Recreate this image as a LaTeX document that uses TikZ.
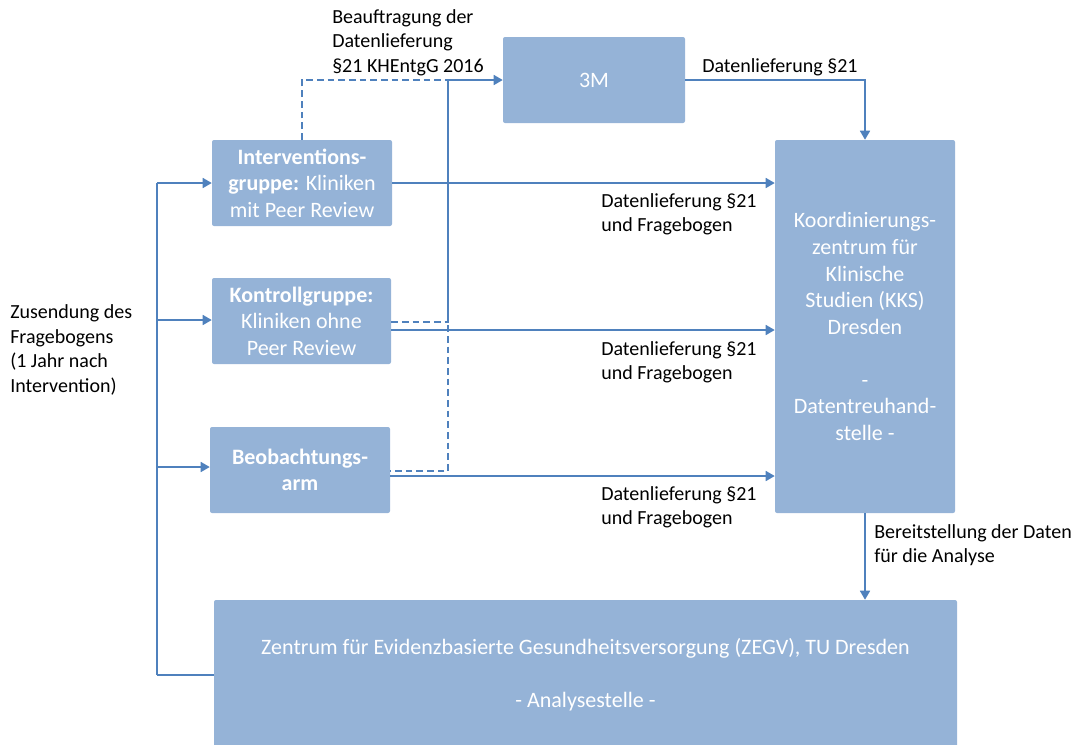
\documentclass[tikz,border=0pt]{standalone}
\usepackage{fontspec}
\setmainfont{Carlito}
\usetikzlibrary{arrows.meta,calc,positioning}
\definecolor{kasten}{HTML}{95B3D7}
\definecolor{linie}{HTML}{4F81BD}
\tikzset{
    box/.style={fill=kasten, rounded corners=1.5pt, text=white, align=center, inner sep=0pt,
      font=\fontsize{16.5}{19.9}\selectfont},
    fluss/.style={draw=linie, line width=1.2pt, -{Triangle[length=6.75pt,width=7.5pt]}},
    strang/.style={draw=linie, line width=1.2pt},
    strich/.style={draw=linie, line width=1.2pt, dash pattern=on 5pt off 3pt},
    notiz/.style={align=left, inner sep=0pt, anchor=west, font=\fontsize{15}{18.3}\selectfont},
  }
\begin{document}
\begin{tikzpicture}[x=0.75pt,y=-0.75pt]
				  \useasboundingbox (0,0) rectangle (1077,744);

				  %KASTEN
				  \node[box, minimum width=135pt, minimum height=64.5pt] (iv) at (302,183)
				    {\textbf{Interventions-}\\\textbf{gruppe:} Kliniken\\mit Peer Review};
				  \node[box, minimum width=134.25pt, minimum height=64.5pt] (kg) at (301.5,321)
				    {\textbf{Kontrollgruppe:}\\Kliniken ohne\\Peer Review};
				  \node[box, minimum width=135pt, minimum height=64.5pt] (ba) at (300,470)
				    {\textbf{Beobachtungs-}\\\textbf{arm}};
				  \node[box, minimum width=136.5pt, minimum height=64.5pt] (mm) at (594,80) {3M};
				  \node[box, minimum width=135pt, minimum height=279.75pt] (kks) at (865,326.5)
				    {Koordinierungs-\\zentrum für\\Klinische\\Studien (KKS)\\Dresden\\[19.9pt]-\\Datentreuhand-\\stelle -};
				  \node[box, minimum width=557.25pt, minimum height=112.5pt] (zegv) at (585.5,675)
				    {Zentrum für Evidenzbasierte Gesundheitsversorgung (ZEGV), TU Dresden\\[19.9pt]- Analysestelle -};

				  %Zusendung
				  \coordinate (t1) at (157,183);
				  \coordinate (t2) at (157,320);
				  \coordinate (t3) at (157,467);
				  \coordinate (t4) at (157,675);
				  \draw[strang] (t4) -- (t1);
				  \draw[fluss] (t1) -- (t1 -| iv.west);
				  \draw[fluss] (t2) -- (t2 -| kg.west);
				  \draw[fluss] (t3) -- (t3 -| ba.west);
				  \draw[strang] (t4) -- (t4 -| zegv.west);
				  \node[notiz] (zus) at (10,350) {Zusendung des\\Fragebogens\\(1 Jahr nach\\Intervention)};

				  %Datenlieferung an KKS
				  \coordinate (kg') at ($(kg.east)+(0,9)$);
				  \coordinate (ba') at ($(ba.east)+(0,6)$);
				  \draw[fluss] (iv.east) -- (iv.east -| kks.west);
				  \draw[fluss] (kg') -- (kg' -| kks.west);
				  \draw[fluss] (ba') -- (ba' -| kks.west);
				  \node[notiz] (dl1) at (601,214) {Datenlieferung §21\\und Fragebogen};
				  \node[notiz] (dl2) at (601,362) {Datenlieferung §21\\und Fragebogen};
				  \node[notiz] (dl3) at (601,507) {Datenlieferung §21\\und Fragebogen};

				  %Beauftragung 3M
				  \coordinate (d) at (448,80);
				  \coordinate (d') at (448,471);
				  \draw[strich] (iv.north) |- (d);
				  \draw[strich] (d) -- (d') -- ($(ba.east)+(0,1)$);
				  \draw[strich] ($(kg.east)+(0,1)$) -| (d);
				  \draw[fluss] (d) -- (mm.west);
				  \node[notiz] (bea) at (332,42.5) {Beauftragung der\\Datenlieferung\\§21 KHEntgG 2016};

				  %3M -> KKS
				  \draw[fluss] (mm.east) -| (kks.north);
				  \node[notiz] (dl0) at (702,67) {Datenlieferung §21};

				  %KKS -> ZEGV
				  \draw[fluss] (kks.south) -- (kks.south |- zegv.north);
				  \node[notiz] (ber) at (874,545) {Bereitstellung der Daten\\für die Analyse};
\end{tikzpicture}
\end{document}
